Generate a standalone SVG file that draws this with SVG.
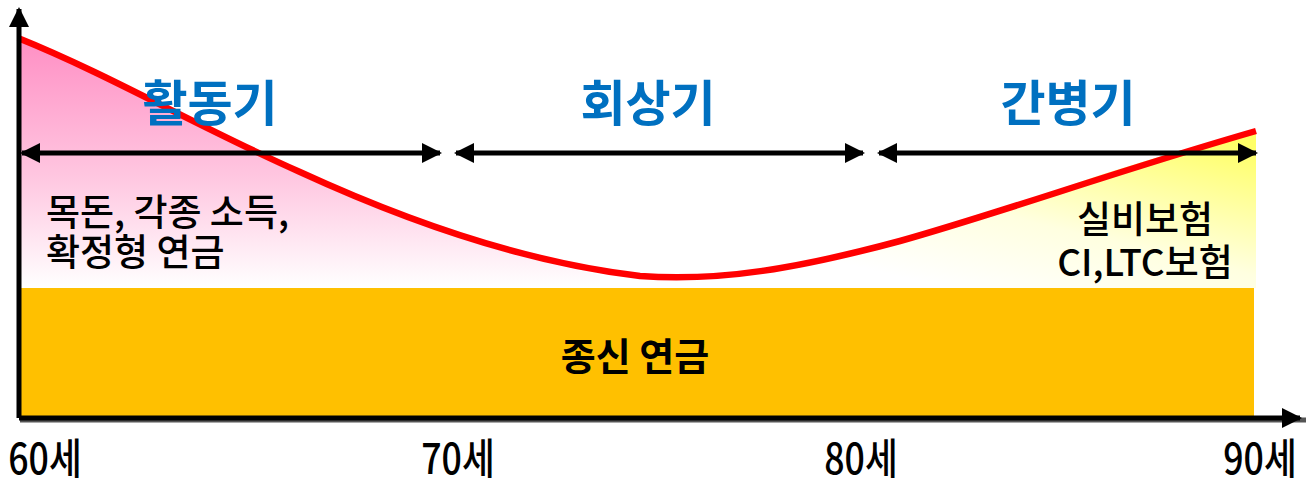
<svg xmlns="http://www.w3.org/2000/svg" width="1306" height="479" viewBox="0 0 1306 479">
<defs>
<linearGradient id="pink" x1="0" y1="0" x2="0" y2="1">
<stop offset="0" stop-color="#FF8FC4"/>
<stop offset="0.55" stop-color="#FFC6E0"/>
<stop offset="1" stop-color="#FFFFFF"/>
</linearGradient>
<linearGradient id="yel" x1="1" y1="0.1" x2="0.35" y2="1">
<stop offset="0" stop-color="#FFFF66"/>
<stop offset="0.6" stop-color="#FFFFE0"/>
<stop offset="1" stop-color="#FFFFFF"/>
</linearGradient>
<marker id="ah" viewBox="0 0 10 10" refX="9" refY="5" markerWidth="4" markerHeight="4" orient="auto-start-reverse" markerUnits="strokeWidth">
<path d="M0,0 L10,5 L0,10 z" fill="#000"/>
</marker>
<style>
.ph{font-family:"Noto Sans CJK KR","Noto Sans",sans-serif;font-weight:700;font-size:49px;fill:#0070C0;text-anchor:middle}
.tx{font-family:"Noto Sans CJK KR","Noto Sans",sans-serif;font-weight:500;font-size:37px;fill:#000}
.ax{font-family:"Noto Sans CJK KR","Noto Sans",sans-serif;font-weight:500;font-size:42px;fill:#000;text-anchor:middle}
.arr{stroke:#000;stroke-width:5;fill:none;marker-start:url(#ah);marker-end:url(#ah)}
</style>
</defs>
<g id="fills">
<path d="M19,38 C120,80 200,130 300,175 C380,212 480,250 600,275 L600,288 L19,288 Z" fill="url(#pink)"/>
<path d="M780,270 C900,245 1000,210 1100,175 C1170,153 1220,140 1256,131 L1256,288 L780,288 Z" fill="url(#yel)"/>
</g>
<g id="annuity">
<rect x="21" y="288" width="1233" height="128" fill="#FFC000"/>
<text x="635" y="370" text-anchor="middle" style="font-family:'Noto Sans CJK KR',sans-serif;font-weight:700;font-size:38px;fill:#000">종신 연금</text>
</g>
<g id="curve">
<path d="M18,38 C110,75 200,128 300,172 C400,218 520,262 640,276 C720,282 800,268 900,241 C1000,213 1120,170 1256,131" fill="none" stroke="#FF0000" stroke-width="6.5"/>
</g>
<g id="axes">
<line x1="20" y1="420" x2="1306" y2="420" stroke="#555" stroke-width="5"/>
<line x1="19" y1="418" x2="1300" y2="418" stroke="#000" stroke-width="5" marker-end="url(#ah)"/>
<line x1="19" y1="418" x2="19" y2="9" stroke="#000" stroke-width="5" marker-end="url(#ah)"/>
</g>
<g id="connectors">
<line class="arr" x1="22" y1="153" x2="440" y2="153"/>
<line class="arr" x1="456" y1="153" x2="863" y2="153"/>
<line class="arr" x1="879" y1="153" x2="1256" y2="153"/>
</g>
<g id="phase-active"><text class="ph" x="210" y="121">활동기</text></g>
<g id="phase-recall"><text class="ph" x="648" y="121">회상기</text></g>
<g id="phase-care"><text class="ph" x="1068" y="121">간병기</text></g>
<g id="income">
<text class="tx" x="46" y="226">목돈, 각종 소득,</text>
<text class="tx" x="46" y="266">확정형 연금</text>
</g>
<g id="insurance">
<text class="tx" x="1145" y="233" text-anchor="middle">실비보험</text>
<text class="tx" x="1145" y="276" text-anchor="middle">CI,LTC보험</text>
</g>
<g id="labels">
<text class="ax" transform="translate(45,474) scale(0.85,1)">60세</text>
<text class="ax" transform="translate(458,474) scale(0.85,1)">70세</text>
<text class="ax" transform="translate(861,474) scale(0.85,1)">80세</text>
<text class="ax" transform="translate(1260,474) scale(0.85,1)">90세</text>
</g>
</svg>
